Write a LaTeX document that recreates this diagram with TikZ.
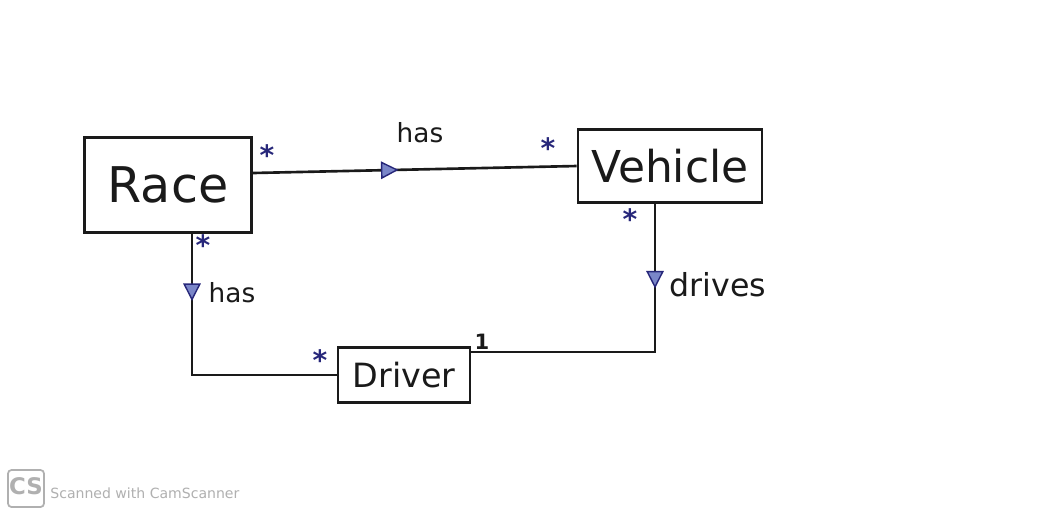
\documentclass[tikz,border=0pt]{standalone}
\usepackage{fontspec}
\setmainfont{DejaVu Sans}
\usetikzlibrary{calc,arrows.meta,decorations.markings}
\definecolor{ink}{HTML}{1A1A1A}
\definecolor{pen}{HTML}{27277A}
\definecolor{penfill}{HTML}{7A86C8}
\definecolor{wm}{HTML}{B0B0B0}
\tikzset{
  entity/.style={draw=ink, line width=1.5pt, inner sep=0pt, text=ink},
  conn/.style={draw=ink, line width=1.5pt},
  midtri/.style={postaction={decorate},
    decoration={markings, mark=at position #1 with {\arrow{Triangle[length=10pt,width=10pt,fill=penfill,color=pen,line width=0.8pt]}}}},
  mult/.style={text=pen, font=\bfseries\fontsize{16}{16}\selectfont, inner sep=0pt},
  rolelabel/.style={text=ink, font=\fontsize{15}{15}\selectfont, inner sep=0pt},
}
\begin{document}
\begin{tikzpicture}[x=0.02cm, y=-0.02cm]
\useasboundingbox (0,0) rectangle (1040,515);
\fill[white] (0,0) rectangle (1040,515);

% entities
\node[entity, minimum width=3.34cm, minimum height=1.9cm, font=\fontsize{28}{28}\selectfont] (Race) at (168,185) {Race};
\node[entity, minimum width=3.68cm, minimum height=1.46cm, font=\fontsize{25}{25}\selectfont] (Vehicle) at (670,166) {Vehicle};
\node[entity, minimum width=2.64cm, minimum height=1.1cm, font=\fontsize{19}{19}\selectfont] (Driver) at (404,375) {Driver};

% connection points
\coordinate (rE) at ([yshift=0.24cm]Race.east);
\coordinate (rS) at ([xshift=0.48cm]Race.south);
\coordinate (vS) at ([xshift=-0.3cm]Vehicle.south);
\coordinate (dE) at ([yshift=0.46cm]Driver.east);

% connectors
\draw[conn, midtri=0.45] (rE) -- (Vehicle.west);
\draw[conn, midtri=0.235] (rS) |- (Driver.west);
\draw[conn, midtri=0.255] (vS) |- (dE);

% role labels
\node[rolelabel] (lHas1) at (420,133) {has};
\node[rolelabel] (lHas2) at (232,293) {has};
\node[rolelabel, font=\fontsize{18}{18}\selectfont] (lDrives) at (718,285) {drives};

% multiplicities
\node[mult] (m1) at (267,155) {*};
\node[mult] (m2) at (548,148) {*};
\node[mult] (m3) at (203,245) {*};
\node[mult] (m4) at (320,360) {*};
\node[mult] (m5) at (630,219) {*};
\node[text=ink, font=\bfseries\fontsize{12}{12}\selectfont, inner sep=0pt] (m6) at (482,342) {1};

% scanner watermark
\draw[wm, line width=1pt, rounded corners=2pt] (8,470) rectangle (44,507);
\node[text=wm, font=\bfseries\fontsize{13}{13}\selectfont, inner sep=0pt] (csLogo) at (26,486) {CS};
\node[text=wm, font=\fontsize{8}{8}\selectfont, anchor=west, inner sep=0pt] (csText) at (50,493) {Scanned with CamScanner};
\end{tikzpicture}
\end{document}
